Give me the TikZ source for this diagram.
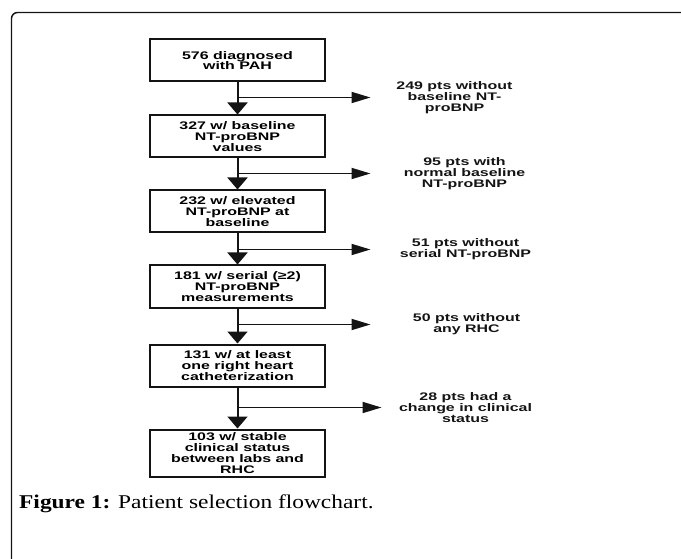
\documentclass[tikz,border=0pt]{standalone}
\usepackage{fontspec}
\setmainfont{Liberation Serif}
\newfontfamily\chartfont[FakeStretch=1.45,BoldFeatures={FakeStretch=1.45}]{Liberation Sans}
\newfontfamily\capfont[FakeStretch=1.2,BoldFeatures={FakeStretch=1.2}]{Liberation Serif}
\usepackage{tikz}
\usetikzlibrary{arrows.meta, positioning}
\definecolor{inkblack}{RGB}{20,20,20}
\tikzset{
  stepbox/.style={rectangle,draw=inkblack,line width=2pt,align=center,minimum width=175pt,minimum height=42pt,inner sep=1pt,font=\chartfont\bfseries\fontsize{11}{10.8}\selectfont},
  exclnote/.style={align=center,inner sep=0pt,text=inkblack,font=\chartfont\bfseries\fontsize{11}{10.8}\selectfont},
  downarr/.style={-{Triangle[length=12pt,width=20pt]},line width=2pt,draw=inkblack},
  sidearr/.style={-{Triangle[length=19pt,width=11pt]},line width=1.8pt,draw=inkblack},
  framebox/.style={draw=inkblack,line width=1.4pt,rounded corners=6pt},
  captext/.style={inner sep=0pt,font=\capfont\fontsize{19.5}{19.5}\selectfont}
}

\begin{document}
\begin{tikzpicture}[x=1pt,y=-1pt]
  \useasboundingbox (0,0) rectangle (681,559);
  \draw[framebox] (11.5,12.5) rectangle (720,600);

  % main column
  \node[stepbox] (diag) at (237.5,60.5) {576 diagnosed\\with PAH};
  \node[stepbox,below=32pt of diag] (baseline) {327 w/ baseline\\NT-proBNP\\values};
  \node[stepbox,below=31pt of baseline] (elevated) {232 w/ elevated\\NT-proBNP at\\baseline};
  \node[stepbox,below=31pt of elevated] (serial) {181 w/ serial (≥2)\\NT-proBNP\\measurements};
  \node[stepbox,below=35pt of serial] (rhc) {131 w/ at least\\one right heart\\catheterization};
  \node[stepbox,minimum height=47pt,below=41pt of rhc] (stable) {103 w/ stable\\clinical status\\between labs and\\RHC};

  \draw[downarr] (diag) -- (baseline);
  \draw[downarr] (baseline) -- (elevated);
  \draw[downarr] (elevated) -- (serial);
  \draw[downarr] (serial) -- (rhc);
  \draw[downarr] (rhc) -- (stable);

  % exclusions
  \coordinate (b1) at ([yshift=-15pt]diag.south);
  \coordinate (b2) at ([yshift=-15pt]baseline.south);
  \coordinate (b3) at ([yshift=-16pt]elevated.south);
  \coordinate (b4) at ([yshift=-16pt]serial.south);
  \coordinate (b5) at ([yshift=-20pt]rhc.south);
  \coordinate[right=133pt of b1] (t1);
  \coordinate[right=133pt of b2] (t2);
  \coordinate[right=133pt of b3] (t3);
  \coordinate[right=133pt of b4] (t4);
  \coordinate[right=144pt of b5] (t5);
  \draw[sidearr] (b1) -- (t1);
  \draw[sidearr] (b2) -- (t2);
  \draw[sidearr] (b3) -- (t3);
  \draw[sidearr] (b4) -- (t4);
  \draw[sidearr] (b5) -- (t5);

  \node[exclnote] (nobase) at ([xshift=217pt]b1) {249 pts without\\baseline NT-\\proBNP};
  \node[exclnote] (normal) at ([xshift=227pt]b2) {95 pts with\\normal baseline\\NT-proBNP};
  \node[exclnote] (noserial) at ([xshift=228pt]b3) {51 pts without\\serial NT-proBNP};
  \node[exclnote] (norhc) at ([xshift=229pt]b4) {50 pts without\\any RHC};
  \node[exclnote] (changed) at ([xshift=228pt]b5) {28 pts had a\\change in clinical\\status};

  \node[captext,anchor=base west] (caption) at (19,508) {\textbf{Figure 1:} Patient selection flowchart.};
\end{tikzpicture}
\end{document}
